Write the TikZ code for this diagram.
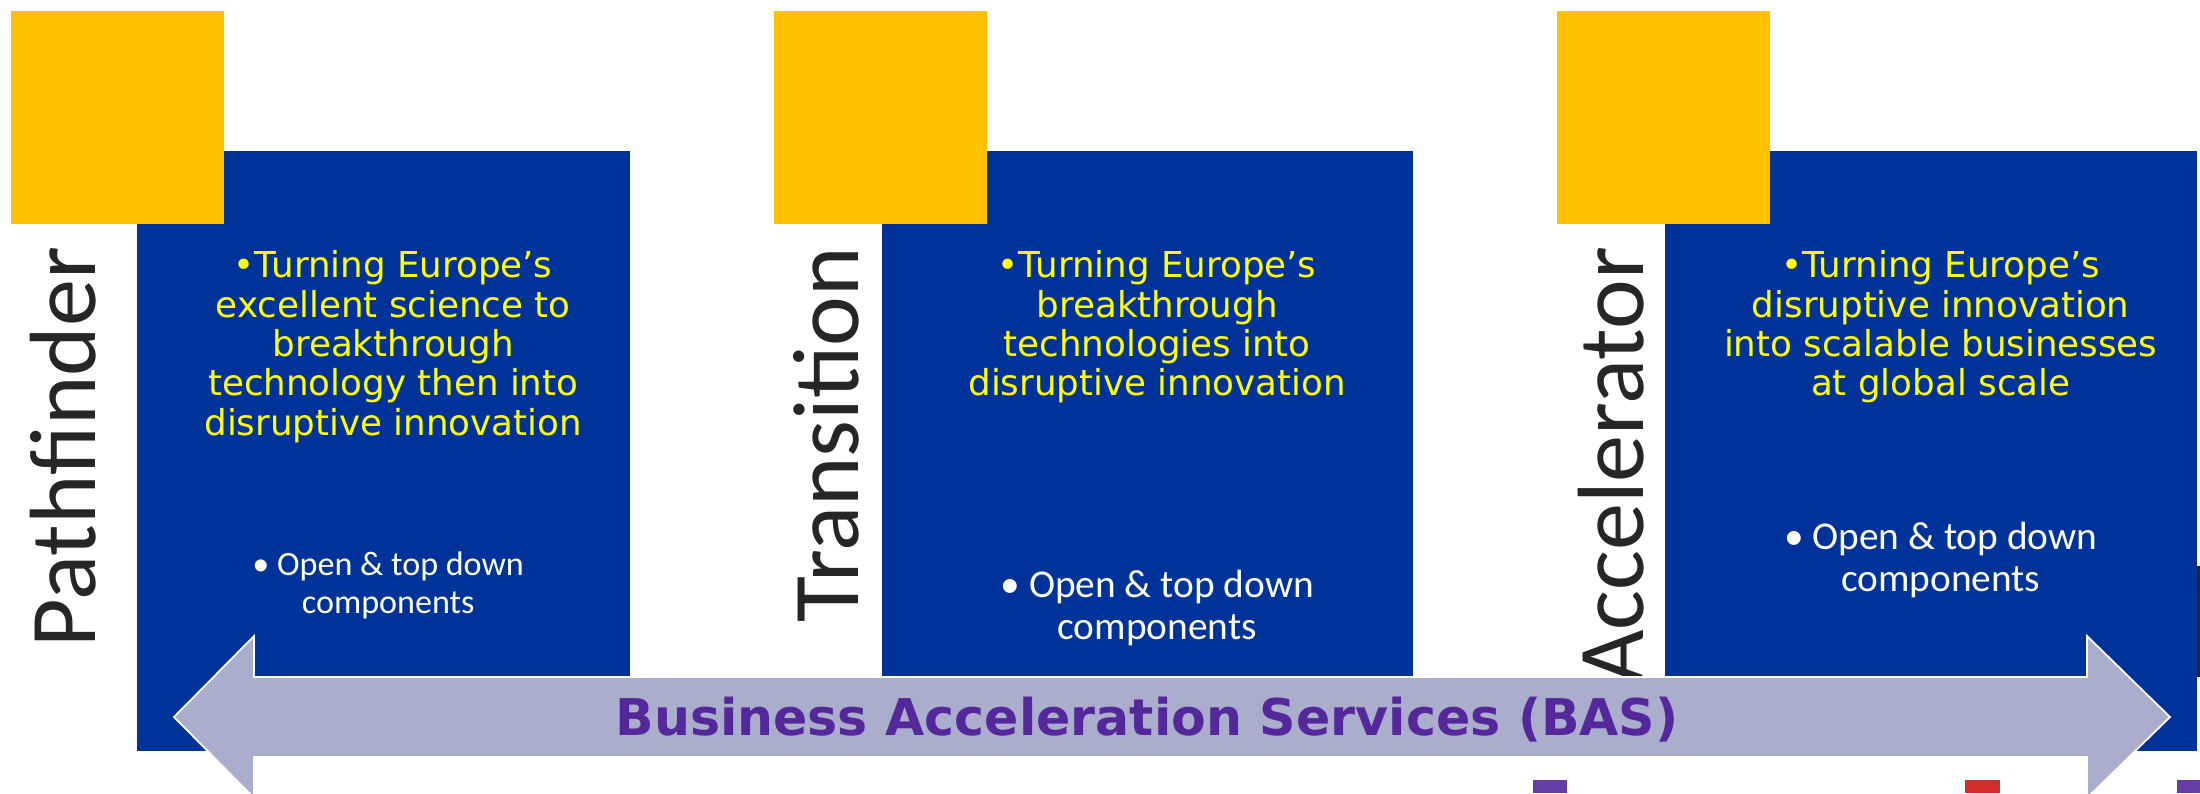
\documentclass[tikz,border=0pt]{standalone}
\usepackage{fontspec}
\setmainfont{Carlito}
\newfontfamily\verdfont{DejaVu Sans}
\usetikzlibrary{positioning,calc}

\definecolor{sqYellow}{RGB}{255,192,0}
\definecolor{panelBlue}{RGB}{0,51,153}
\definecolor{goalYellow}{RGB}{255,255,0}
\definecolor{stageGray}{RGB}{38,38,38}
\definecolor{basFill}{RGB}{170,173,203}
\definecolor{basPurple}{RGB}{84,40,154}
\definecolor{tabRed}{RGB}{210,45,45}

\begin{document}
\begin{tikzpicture}[
    font=\rmfamily,
    square/.style ={fill=sqYellow,minimum size=\sq cm,anchor=north west,inner sep=0pt},
    panel/.style  ={fill=panelBlue,anchor=north west,inner sep=0pt},
    stage/.style  ={rotate=90,anchor=base east,inner sep=0pt,text=stageGray,
                    font=\fontsize{26.8}{30}\selectfont},
    goal/.style   ={anchor=north,align=center,inner sep=0pt,text=goalYellow,
                    font=\verdfont\fontsize{10.15}{11.2}\selectfont},
    comp/.style   ={anchor=north,align=center,inner sep=0pt,text=white},
    basArrow/.style={fill=basFill,draw=white,line width=0.5pt},
    basText/.style={anchor=base,inner sep=0pt,text=basPurple,
                    font=\verdfont\bfseries\fontsize{14.4}{16}\selectfont},
]

% ---------- Parameters (cm) ----------
\def\sq{2.13}    % yellow square side
\def\panH{6.00}  % panel height
\def\gx{1.08}    % square -> panel offset

\useasboundingbox (0,0) rectangle (22,-7.93);
\fill[white] (0,0) rectangle (22,-7.93);

% ---------- Panels ----------
\node[panel, minimum width=4.93cm, minimum height=\panH cm] (p1) at (1.36,-1.50) {};
\node[panel, minimum width=5.31cm, minimum height=5.27cm]   (p2) at (8.81,-1.50) {};
\node[panel, minimum width=5.32cm, minimum height=\panH cm] (p3) at ([xshift=\gx cm]15.56,-1.50) {};

% ---------- Yellow squares ----------
\node[square] (sq1) at (0.10,-0.10) {};
\node[square] (sq2) at (7.73,-0.10) {};
\node[square] (sq3) at (15.56,-0.10) {};

% ---------- Stage names ----------
\node[stage] (pathfinder)  at ([xshift=0.85cm,yshift=-0.22cm]sq1.south west) {Pathfinder};
\node[stage] (transition)  at ([xshift=0.85cm,yshift=-0.22cm]sq2.south west) {Transition};
\node[stage] (accelerator) at ([xshift=0.87cm,yshift=-0.22cm]sq3.south west) {Accelerator};

% ---------- Goals ----------
\node[goal] (g1) at ([xshift=0.1cm,yshift=-1.0cm]p1.north)
  {•Turning Europe’s\\excellent science to\\breakthrough\\technology then into\\disruptive innovation};
\node[goal] (g2) at ([xshift=0.1cm,yshift=-1.0cm]p2.north)
  {•Turning Europe’s\\breakthrough\\technologies into\\disruptive innovation};
\node[goal] (g3) at ([xshift=0.1cm,yshift=-1.0cm]p3.north)
  {•Turning Europe’s\\disruptive innovation\\into scalable businesses\\at global scale};

% ---------- Components ----------
\node[comp, font=\fontsize{9.7}{10.8}\selectfont] (c1) at ([xshift=0.05cm,yshift=-4.01cm]p1.north)
  {• Open \& top down\\components};
\node[comp, font=\fontsize{11.2}{12.2}\selectfont] (c2) at ([xshift=0.1cm,yshift=-4.19cm]p2.north)
  {• Open \& top down\\components};
\node[comp, font=\fontsize{11.2}{12.2}\selectfont] (c3) at ([xshift=0.1cm,yshift=-3.71cm]p3.north)
  {• Open \& top down\\components};

% ---------- Business Acceleration Services ----------
\coordinate (basL) at (1.74,-7.17);
\coordinate (basR) at (21.70,-7.17);
\path[basArrow] (basL) -- ++(0.80,0.81) -- ++(0,-0.41) -- ++(18.33,0) -- ++(0,0.41)
  -- (basR) -- ++(-0.83,-0.81) -- ++(0,0.41) -- ++(-18.33,0) -- ++(0,-0.41) -- cycle;
\node[basText] (bas) at (11.47,-7.35) {Business Acceleration Services (BAS)};

% cut-off marks at the edges
\fill[basPurple!90] (15.33,-7.80) rectangle (15.67,-7.93);
\fill[tabRed]       (19.65,-7.80) rectangle (20.00,-7.93);
\fill[basPurple!90] (21.77,-7.80) rectangle (22.00,-7.93);
\fill[stageGray]    (21.97,-5.66) rectangle (22.00,-6.77);

\end{tikzpicture}
\end{document}
